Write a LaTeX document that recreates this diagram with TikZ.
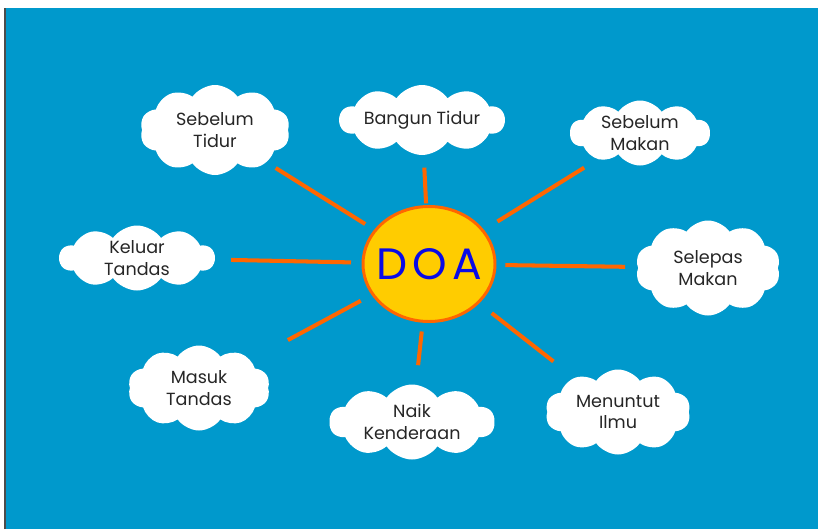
\documentclass[tikz,border=0pt]{standalone}
\usepackage{fontspec}
\setmainfont{Poppins}
\usetikzlibrary{shapes.symbols,shapes.geometric}
\definecolor{langit}{RGB}{0,153,204}
\definecolor{jingga}{RGB}{255,102,0}
\definecolor{kuning}{RGB}{255,204,0}
\definecolor{biru}{RGB}{10,10,230}

\begin{document}
\begin{tikzpicture}[
	awan/.style={cloud, cloud puffs=10, cloud puff arc=110, cloud ignores aspect, fill=white, inner sep=0pt, align=center, text=black!85, font=\fontsize{10}{12.5}\selectfont},
	sinar/.style={draw=jingga, line width=2.3pt},
	]
	\useasboundingbox (0,0) rectangle (16.36,10.58);
	% background
	\fill [langit] (0.1,0) rectangle (16.36,10.42);
	\draw [black!70, line width=0.8pt] (0.1,0) -- (0.1,10.42);

	% sun
	\node [ellipse, draw=jingga, line width=1.7pt, fill=kuning, inner xsep=-4pt, inner ysep=0pt, minimum width=2.64cm, minimum height=2.3cm, text=biru, font=\fontsize{25}{28}\selectfont\addfontfeature{LetterSpace=12}] (doa) at (8.58,5.30) {DOA};

	% clouds
	\node [awan, minimum width=3.0cm, minimum height=1.8cm] (stidur) at (4.3,7.98) {Sebelum\\Tidur};
	\node [awan, minimum width=3.3cm, minimum height=1.4cm] (bangun) at (8.44,8.18) {Bangun Tidur};
	\node [awan, minimum width=2.8cm, minimum height=1.3cm] (smakan) at (12.8,7.92) {Sebelum\\Makan};
	\node [awan, minimum width=3.1cm, minimum height=1.3cm] (keluar) at (2.74,5.42) {Keluar\\Tandas};
	\node [awan, minimum width=2.9cm, minimum height=1.9cm] (selepas) at (14.16,5.22) {Selepas\\Makan};
	\node [awan, minimum width=2.84cm, minimum height=1.7cm] (masuk) at (3.98,2.82) {Masuk\\Tandas};
	\node [awan, minimum width=3.3cm, minimum height=1.5cm] (naik) at (8.24,2.14) {Naik\\Kenderaan};
	\node [awan, minimum width=2.9cm, minimum height=1.7cm] (ilmu) at (12.36,2.34) {Menuntut\\Ilmu};

	% rays
	\draw [sinar, shorten <=6pt, shorten >=6pt] (doa) -- (stidur);
	\draw [sinar, shorten <=1pt, shorten >=7pt] (doa) -- (bangun);
	\draw [sinar, shorten <=9pt, shorten >=9pt] (doa) -- (smakan);
	\draw [sinar, shorten <=6pt, shorten >=9pt] (doa) -- (keluar);
	\draw [sinar, shorten <=5pt, shorten >=7pt] (doa) -- (selepas);
	\draw [sinar, shorten <=9pt, shorten >=15pt] (doa) -- (ilmu);
	\draw [sinar, shorten <=5pt, shorten >=11pt] (doa) -- (naik);
	\draw [sinar, shorten <=7pt, shorten >=24pt] (doa) -- (masuk);
\end{tikzpicture}
\end{document}
